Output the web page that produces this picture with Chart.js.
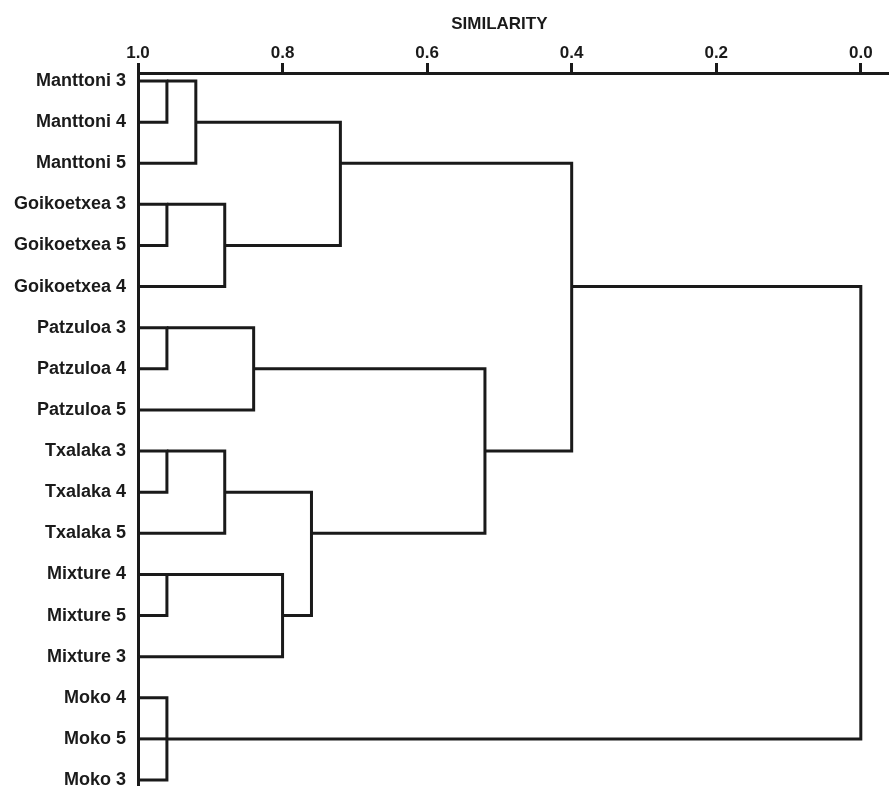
<!DOCTYPE html>
<html>
<head>
<meta charset="utf-8">
<script src="https://cdn.jsdelivr.net/npm/chart.js@4/dist/chart.umd.min.js"></script>
<style>
  html, body { margin: 0; padding: 0; background: #ffffff; }
  #wrap { width: 889px; height: 786px; }
</style>
</head>
<body>
<div id="wrap"><canvas id="dendro" width="889" height="786"></canvas></div>
<script>
// Samples, top to bottom (leaf ids 0..17)
const leafLabels = [
  'Manttoni 3', 'Manttoni 4', 'Manttoni 5',
  'Goikoetxea 3', 'Goikoetxea 5', 'Goikoetxea 4',
  'Patzuloa 3', 'Patzuloa 4', 'Patzuloa 5',
  'Txalaka 3', 'Txalaka 4', 'Txalaka 5',
  'Mixture 4', 'Mixture 5', 'Mixture 3',
  'Moko 4', 'Moko 5', 'Moko 3'
];

// Agglomeration steps: merge k creates node id 18 + k
const mergeLevels   = [0.96, 0.92, 0.96, 0.88, 0.72, 0.96, 0.84, 0.96, 0.88, 0.96, 0.80, 0.76, 0.52, 0.40, 0.96, 0.00];
const mergeChildren = [[0, 1], [18, 2], [3, 4], [20, 5], [19, 21], [6, 7], [23, 8], [9, 10], [25, 11],
                       [12, 13], [27, 14], [26, 28], [24, 29], [22, 30], [15, 16, 17], [31, 32]];
// Row at which each merged cluster's branch leaves toward its parent
const mergeRows     = [0, 1, 3, 4, 2, 6, 7, 9, 10, 12, 13, 11, 9, 5, 16, null];

// Similarity axis ticks
const simTicks = [1.0, 0.8, 0.6, 0.4, 0.2, 0.0];

const INK = '#1a1a1a';
const FONT = "'Liberation Sans', Arial, Helvetica, sans-serif";
const nLeaves = leafLabels.length;

// level / branch row for any node id
function nodeLevel(id) { return id < nLeaves ? 1.0 : mergeLevels[id - nLeaves]; }
function nodeRow(id)   { return id < nLeaves ? id : mergeRows[id - nLeaves]; }

// Build the branch polylines of the tree
const branchSets = [];
mergeLevels.forEach((lvl, k) => {
  const kids = mergeChildren[k].slice().sort((a, b) => nodeRow(a) - nodeRow(b));
  const top = kids[0], bot = kids[kids.length - 1];
  branchSets.push([
    { x: nodeLevel(top), y: nodeRow(top) },
    { x: lvl, y: nodeRow(top) },
    { x: lvl, y: nodeRow(bot) },
    { x: nodeLevel(bot), y: nodeRow(bot) }
  ]);
  kids.slice(1, -1).forEach(c => {
    branchSets.push([{ x: nodeLevel(c), y: nodeRow(c) }, { x: lvl, y: nodeRow(c) }]);
  });
});

const datasets = branchSets.map(pts => ({
  type: 'scatter',
  data: pts,
  showLine: true,
  borderColor: INK,
  borderWidth: 3,
  borderJoinStyle: 'miter',
  borderCapStyle: 'butt',
  pointRadius: 0,
  pointHoverRadius: 0,
  fill: false,
  tension: 0
}));

// Axis caption centred over the middle of the similarity range
const captionPlugin = {
  id: 'simCaption',
  afterDraw(chart) {
    const xs = chart.scales.x;
    const ctx = chart.ctx;
    ctx.save();
    ctx.font = 'bold 17px ' + FONT;
    ctx.fillStyle = INK;
    ctx.textAlign = 'center';
    ctx.textBaseline = 'middle';
    ctx.fillText('SIMILARITY', xs.getPixelForValue(0.5), 24);
    ctx.restore();
  }
};

new Chart(document.getElementById('dendro'), {
  type: 'scatter',
  data: { datasets },
  plugins: [captionPlugin],
  options: {
    responsive: false,
    animation: false,
    events: [],
    layout: { padding: 0 },
    plugins: {
      legend: { display: false },
      tooltip: { enabled: false },
      title: { display: false }
    },
    scales: {
      x: {
        type: 'linear',
        position: 'top',
        reverse: true,
        min: -0.039,
        max: 1.0,
        afterBuildTicks(scale) { scale.ticks = simTicks.map(v => ({ value: v })); },
        afterFit(scale) {
          scale.height = 73;
          scale.paddingLeft = 0;
          scale.paddingRight = 0;
        },
        ticks: {
          autoSkip: false,
          maxRotation: 0,
          padding: -1,
          color: INK,
          font: { family: FONT, size: 17, weight: 'bold' },
          callback: v => Number(v).toFixed(1)
        },
        grid: {
          drawOnChartArea: false,
          drawTicks: true,
          tickLength: 10,
          tickWidth: 3,
          tickColor: INK
        },
        border: { display: true, color: INK, width: 3 }
      },
      y: {
        type: 'linear',
        reverse: true,
        min: -0.195,
        max: 17.146,
        afterBuildTicks(scale) { scale.ticks = leafLabels.map((_, i) => ({ value: i })); },
        afterFit(scale) {
          scale.width = 138;
          scale.paddingTop = 0;
          scale.paddingBottom = 0;
        },
        ticks: {
          autoSkip: false,
          padding: 12,
          color: INK,
          font: { family: FONT, size: 18, weight: 'bold' },
          callback: v => leafLabels[v]
        },
        grid: { drawOnChartArea: false, drawTicks: false },
        border: { display: true, color: INK, width: 3 }
      }
    }
  }
});
</script>
</body>
</html>
